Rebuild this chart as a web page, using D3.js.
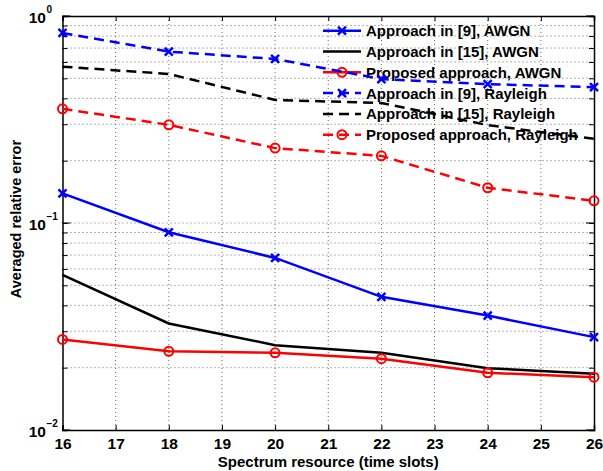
<!DOCTYPE html>
<html><head><meta charset="utf-8">
<script src="https://cdn.jsdelivr.net/npm/d3@7"></script>
<style>body{margin:0;background:#fff}svg{display:block}text{font-family:"Liberation Sans",Arial,Helvetica,sans-serif;font-weight:bold;fill:#000}</style>
</head><body><svg id="c" width="603" height="471"></svg>
<script>
const xValues = [16, 18, 20, 22, 24, 26];
const xTicks = [16,17,18,19,20,21,22,23,24,25,26];
const yTickExps = [-2, -1, 0];
const seriesNames = ["Approach in [9], AWGN","Approach in [15], AWGN","Proposed approach, AWGN","Approach in [9], Rayleigh","Approach in [15], Rayleigh","Proposed approach, Rayleigh"];
const ref9AWGN = [0.139, 0.0902, 0.0678, 0.0440, 0.0357, 0.0281];
const ref15AWGN = [0.0561, 0.0327, 0.0257, 0.0236, 0.0199, 0.0187];
const propAWGN = [0.0274, 0.0240, 0.0236, 0.0221, 0.0189, 0.0180];
const ref9Ray = [0.828, 0.673, 0.620, 0.496, 0.469, 0.453];
const ref15Ray = [0.569, 0.525, 0.393, 0.380, 0.297, 0.255];
const propRay = [0.356, 0.298, 0.230, 0.211, 0.148, 0.128];
const xLabel = "Spectrum resource (time slots)";
const yLabel = "Averaged relative error";

const series = [
  {name: seriesNames[0], values: ref9AWGN, color: "#0000ff", dash: null, marker: "x"},
  {name: seriesNames[1], values: ref15AWGN, color: "#000000", dash: null, marker: null},
  {name: seriesNames[2], values: propAWGN, color: "#ff0000", dash: null, marker: "o"},
  {name: seriesNames[3], values: ref9Ray, color: "#0000ff", dash: "10,6", marker: "x"},
  {name: seriesNames[4], values: ref15Ray, color: "#000000", dash: "10,6", marker: null},
  {name: seriesNames[5], values: propRay, color: "#ff0000", dash: "10,6", marker: "o"}
];

const svg = d3.select("#c");
const L = 62.5, R = 594, T = 16, B = 430;
const x = d3.scaleLinear().domain([16, 26]).range([L, R]);
const y = d3.scaleLog().domain([1e-2, 1]).range([B, T]);

// grid
const g = svg.append("g");
const minorY = [];
for (let e = -2; e < 0; e++) for (let m = 1; m <= 9; m++) minorY.push(m * Math.pow(10, e));
minorY.push(1);
g.selectAll(".gx").data(xTicks.slice(1, -1)).enter().append("line")
  .attr("x1", d => x(d)).attr("x2", d => x(d)).attr("y1", T).attr("y2", B)
  .attr("stroke", "#444").attr("stroke-width", 0.8).attr("stroke-dasharray", "1,3");
g.selectAll(".gy").data(minorY.filter(v => v > 0.0101 && v < 0.99)).enter().append("line")
  .attr("x1", L).attr("x2", R).attr("y1", d => y(d)).attr("y2", d => y(d))
  .attr("stroke", "#444").attr("stroke-width", 0.8).attr("stroke-dasharray", "1,3");

// axes with inward ticks
const axB = d3.axisBottom(x).tickValues(xTicks).tickSize(-5).tickFormat(d3.format("d")).tickPadding(8);
const axT = d3.axisTop(x).tickValues(xTicks).tickSize(-5).tickFormat("");
const axL = d3.axisLeft(y).tickValues(minorY).tickSize(-5).tickFormat("");
const axR = d3.axisRight(y).tickValues(minorY).tickSize(-5).tickFormat("");
function style(sel){ sel.select(".domain").attr("stroke","#000").attr("stroke-width",1.5); sel.selectAll(".tick line").attr("stroke","#000").attr("stroke-width",1); }
svg.append("g").attr("transform", `translate(0,${B})`).call(axB).call(style)
  .selectAll("text").attr("font-size", 15.5).attr("font-family", '"Liberation Sans",Arial').attr("font-weight","bold").attr("fill","#000");
svg.append("g").attr("transform", `translate(0,${T})`).call(axT).call(style);
svg.append("g").attr("transform", `translate(${L},0)`).call(axL).call(style);
svg.append("g").attr("transform", `translate(${R},0)`).call(axR).call(style);
// major y ticks longer + labels
svg.selectAll(".majY").data(yTickExps).enter().append("g").each(function(e){
  const s = d3.select(this);
  const yy = y(Math.pow(10,e));
  s.append("line").attr("x1", L).attr("x2", L + 8).attr("y1", yy).attr("y2", yy).attr("stroke","#000");
  s.append("line").attr("x1", R).attr("x2", R - 8).attr("y1", yy).attr("y2", yy).attr("stroke","#000");
  s.append("text").attr("x", 46).attr("y", yy + 7).attr("text-anchor","end").attr("font-size", 15.5).text("10");
  s.append("text").attr("x", 46.5).attr("y", yy - 3).attr("font-size", 10).text(e === 0 ? "0" : "\u2212" + (-e));
});

// axis labels
svg.append("text").attr("x", (L + R) / 2).attr("y", 466.5).attr("text-anchor","middle").attr("font-size", 15).text(xLabel);
svg.append("text").attr("transform", `translate(21,${(T + B) / 2 - 4}) rotate(-90)`).attr("text-anchor","middle").attr("font-size", 14.5).text(yLabel);

// legend (under the lines, no box)
const lg = svg.append("g");
const legX1 = 323, legX2 = 361, legTX = 366, legY0 = 30.7, legDY = 20.8;
series.forEach((s, i) => {
  const yy = legY0 + i * legDY;
  lg.append("line").attr("x1", legX1).attr("x2", legX2).attr("y1", yy).attr("y2", yy)
    .attr("stroke", s.color).attr("stroke-width", 2.5).attr("stroke-dasharray", s.dash);
  drawMarker(lg, s, (legX1 + legX2) / 2, yy);
  lg.append("text").attr("x", legTX).attr("y", yy + 5.5).attr("font-size", 15).text(s.name);
});

function drawMarker(sel, s, cx, cy) {
  if (s.marker === "x") {
    sel.append("path").attr("d", `M${cx-4},${cy-4}L${cx+4},${cy+4}M${cx-4},${cy+4}L${cx+4},${cy-4}`)
      .attr("stroke", s.color).attr("stroke-width", 2.5).attr("fill","none");
  } else if (s.marker === "o") {
    sel.append("circle").attr("cx", cx).attr("cy", cy).attr("r", 4.5)
      .attr("stroke", s.color).attr("stroke-width", 2).attr("fill","none");
  }
}

// lines
const line = d3.line().x((d, i) => x(xValues[i])).y(d => y(d));
series.forEach(s => {
  svg.append("path").attr("d", line(s.values)).attr("fill","none").attr("stroke", s.color)
    .attr("stroke-width", 2.5).attr("stroke-dasharray", s.dash);
  s.values.forEach((v, i) => drawMarker(svg, s, x(xValues[i]), y(v)));
});
</script></body></html>
